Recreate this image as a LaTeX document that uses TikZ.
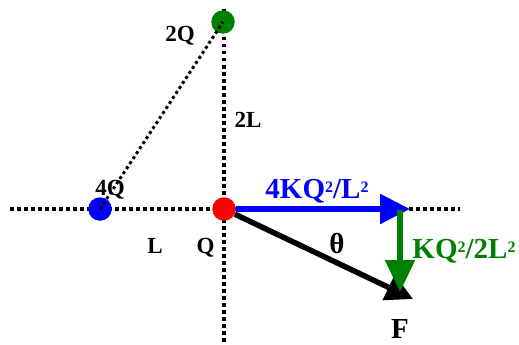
\documentclass[tikz,border=0pt]{standalone}
\usepackage{fontspec}
\setmainfont{Liberation Serif}
\usetikzlibrary{arrows.meta}
\definecolor{dkgreen}{RGB}{0,128,0}
\newcommand{\supii}{\raisebox{6pt}{\fontsize{16pt}{16pt}\selectfont 2}}
\begin{document}
\begin{tikzpicture}[x=1pt,y=-1pt,
  axisline/.style={line width=3.5pt,dash pattern=on 3.5pt off 3.5pt},
  diagline/.style={line width=3pt,dash pattern=on 3pt off 3pt},
  charge/.style={circle,inner sep=0pt,minimum size=23.5pt},
  smalllbl/.style={font=\fontsize{23pt}{23pt}\selectfont\bfseries,anchor=base,inner sep=0pt},
  biglbl/.style={font=\fontsize{29pt}{29pt}\selectfont\bfseries,anchor=base,inner sep=0pt},
  vec/.style={line width=5.5pt}
]
\useasboundingbox (0,0) rectangle (519,345);
% axes
\coordinate (hl) at (10,209);
\coordinate (hr) at (460,209);
\coordinate (vt) at (224,9);
\coordinate (vb) at (224,345);
\draw[axisline] (hl) -- (hr);
\draw[axisline] (vt) -- (vb);
% charges
\node[charge,fill=dkgreen] (q2) at (223,22) {};
\node[charge,fill=blue] (q4) at (100,209) {};
\node[charge,fill=red] (q) at (224,209) {};
\draw[diagline] (q4.center) -- (q2.center);
% vectors
\coordinate (bt) at (410,209);
\coordinate (gs) at (400,210);
\coordinate (gt) at (400,292);
\coordinate (ft) at (413,299);
\draw[vec,-{Triangle[length=27pt,width=27pt]}] (q) -- (ft);
\draw[vec,blue,-{Triangle[length=30pt,width=29pt]}] (q) -- (bt);
\draw[vec,dkgreen,-{Triangle[length=32pt,width=29pt]}] (gs) -- (gt);
% labels
\node[smalllbl] (l2q) at (180,42) {2Q};
\node[smalllbl] (l2l) at (248,127) {2L};
\node[smalllbl] (l4q) at (110,195) {4Q};
\node[smalllbl] (ll) at (155,253) {L};
\node[smalllbl] (lq) at (205.5,253) {Q};
\node[biglbl] (lth) at (337,253) {θ};
\node[biglbl] (lf) at (400,338) {F};
\node[biglbl,text=blue] (lb) at (317,198) {4KQ\supii/L\supii};
\node[biglbl,text=dkgreen] (lg) at (464,258) {KQ\supii/2L\supii};
\end{tikzpicture}
\end{document}
